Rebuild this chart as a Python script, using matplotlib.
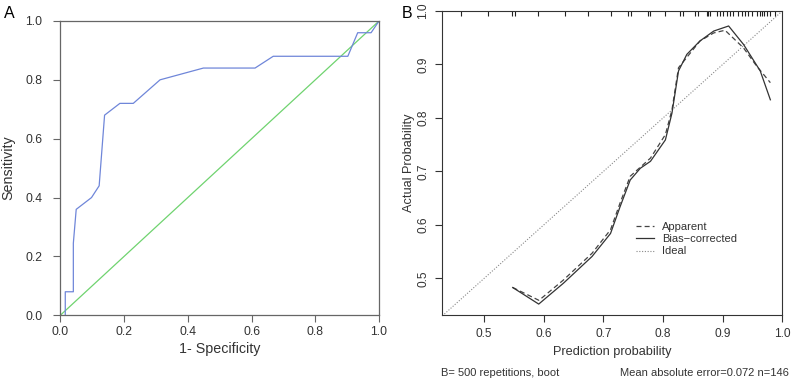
import numpy as np
import matplotlib
matplotlib.use("Agg")
import matplotlib.pyplot as plt

plt.rcParams['font.family'] = ['Liberation Sans', 'DejaVu Sans']

# Panel A: ROC curve
roc_fpr = [0.0157, 0.0157, 0.041, 0.041, 0.050, 0.098, 0.122, 0.139, 0.187, 0.229,
           0.313, 0.449, 0.611, 0.668, 0.902, 0.933, 0.975, 1.0]
roc_tpr = [0.0, 0.08, 0.08, 0.245, 0.36, 0.40, 0.44, 0.68, 0.72, 0.72,
           0.80, 0.84, 0.84, 0.88, 0.88, 0.96, 0.96, 1.0]

# Panel B: calibration curves
bias_x = [0.548, 0.5916, 0.633, 0.681, 0.712, 0.728, 0.745, 0.762, 0.779, 0.804,
          0.815, 0.826, 0.840, 0.862, 0.885, 0.910, 0.935, 0.963, 0.980]
bias_y = [0.483, 0.452, 0.491, 0.541, 0.584, 0.634, 0.684, 0.706, 0.719, 0.759,
          0.809, 0.888, 0.919, 0.944, 0.9625, 0.972, 0.9375, 0.888, 0.834]
app_x = [0.548, 0.592, 0.633, 0.681, 0.712, 0.728, 0.745, 0.779, 0.804, 0.815,
         0.826, 0.862, 0.885, 0.904, 0.935, 0.957, 0.980]
app_y = [0.483, 0.459, 0.497, 0.547, 0.591, 0.641, 0.691, 0.725, 0.769, 0.815,
         0.894, 0.944, 0.959, 0.964, 0.931, 0.897, 0.866]
rug = [0.462, 0.507, 0.547, 0.551, 0.590, 0.635, 0.674, 0.713, 0.742, 0.746,
       0.775, 0.779, 0.804, 0.829, 0.833, 0.853, 0.858, 0.874, 0.876, 0.878,
       0.890, 0.895, 0.901, 0.907, 0.913, 0.918, 0.926, 0.932, 0.938, 0.943,
       0.949, 0.957, 0.962, 0.966, 0.970, 0.974, 0.980, 0.988]

fig = plt.figure(figsize=(7.93, 3.81), dpi=100)

# ---- A ----
axA = fig.add_axes([0.076, 0.1724, 0.402, 0.7726])
axA.plot([0, 1], [0, 1], color='#6fd36f', linewidth=0.9)
axA.plot(roc_fpr, roc_tpr, color='#6f86d9', linewidth=0.9)
axA.set_xlim(0, 1)
axA.set_ylim(0, 1)
ticksA = np.arange(0, 1.01, 0.2)
axA.set_xticks(ticksA)
axA.set_yticks(ticksA)
axA.set_xticklabels([f'{v:.1f}' for v in ticksA])
axA.set_yticklabels([f'{v:.1f}' for v in ticksA])
for s in axA.spines.values():
    s.set_color('#666666')
    s.set_linewidth(0.9)
axA.tick_params(labelsize=8.8, labelcolor='#333333', color='#666666',
                length=5, width=0.8)
axA.tick_params(axis='x', pad=2.5)
axA.tick_params(axis='y', pad=8)
axA.set_xlabel('1- Specificity', fontsize=10.3, color='#333333', labelpad=3)
axA.set_ylabel('Sensitivity', fontsize=10.3, color='#333333', labelpad=7)
fig.text(0.005, 0.985, 'A', fontsize=11.5, va='top', ha='left')

# ---- B ----
axB = fig.add_axes([0.5578, 0.1745, 0.4287, 0.7966])
axB.plot([0.43, 1.0], [0.43, 1.0], color='#888888', linestyle=(0, (1, 1.5)),
         linewidth=0.8, label='Ideal')
axB.plot(app_x, app_y, color='#444444', linestyle=(0, (4, 2.5)), linewidth=0.9,
         label='Apparent')
axB.plot(bias_x, bias_y, color='#333333', linewidth=0.9, label='Bias\u2212corrected')
axB.vlines(rug, 0.9905, 1.0, color='#222222', linewidth=0.8)
axB.set_xlim(0.43, 1.0)
axB.set_ylim(0.4325, 1.0)
ticksB = [0.5, 0.6, 0.7, 0.8, 0.9, 1.0]
axB.set_xticks(ticksB)
axB.set_xticklabels([f'{v:.1f}' for v in ticksB])
axB.set_yticks(ticksB)
axB.set_yticklabels([f'{v:.1f}' for v in ticksB], rotation=90, va='center')
for s in axB.spines.values():
    s.set_color('#333333')
    s.set_linewidth(0.8)
axB.tick_params(labelsize=8.6, labelcolor='#333333', color='#333333',
                length=5, width=0.8)
axB.tick_params(axis='x', pad=5)
axB.tick_params(axis='y', pad=4.5)
axB.set_xlabel('Prediction probability', fontsize=9.2, color='#333333', labelpad=4)
axB.set_ylabel('Actual Probability', fontsize=9.2, color='#333333', labelpad=1.5)
h, l = axB.get_legend_handles_labels()
order = [1, 2, 0]
axB.legend([h[i] for i in order], [l[i] for i in order], loc='upper left',
           bbox_to_anchor=(0.57, 0.305), frameon=False, fontsize=8,
           handlelength=1.6, handletextpad=0.7, labelspacing=0.2,
           borderpad=0, borderaxespad=0, labelcolor='#333333')
fig.text(0.556, 0.022, 'B= 500 repetitions, boot', fontsize=8, color='#333333',
         ha='left', va='center')
fig.text(0.995, 0.022, 'Mean absolute error=0.072 n=146', fontsize=8, color='#333333',
         ha='right', va='center')
fig.text(0.506, 0.985, 'B', fontsize=11.5, va='top', ha='left')

fig.savefig('out.png', dpi=100)
